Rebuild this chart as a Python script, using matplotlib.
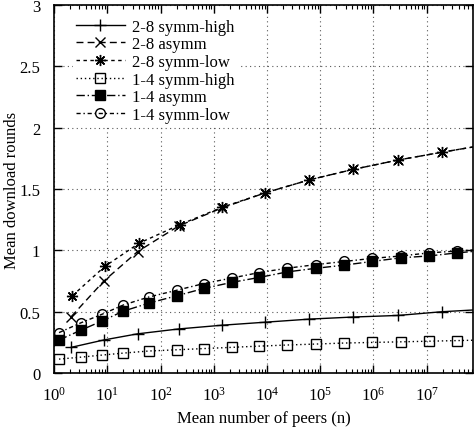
import numpy as np
import matplotlib.pyplot as plt
from matplotlib.ticker import FixedLocator, LogLocator, NullFormatter

plt.rcParams['font.family'] = ['Liberation Serif', 'DejaVu Serif']
plt.rcParams['mathtext.fontset'] = 'custom'
plt.rcParams['mathtext.rm'] = 'Liberation Serif'
plt.rcParams['mathtext.it'] = 'Liberation Serif:italic'
plt.rcParams['font.size'] = 12

# 2-8 series (mean peers, mean rounds)
n_28 = [2.1, 8.6, 37, 220, 1400, 9300, 62000, 4.1e5, 2.9e6, 1.9e7, 1.25e8]
symm_high_28 = [0.21, 0.27, 0.32, 0.36, 0.39, 0.415, 0.44, 0.457, 0.47, 0.50, 0.52]
asymm_28 = [0.46, 0.75, 0.99, 1.20, 1.345, 1.47, 1.575, 1.66, 1.737, 1.80, 1.86]
n_28_low = [2.2, 9.0, 40, 230, 1400, 9300, 62000, 4.1e5, 2.9e6, 1.9e7, 1.25e8]
symm_low_28 = [0.63, 0.87, 1.06, 1.21, 1.35, 1.47, 1.575, 1.66, 1.737, 1.80, 1.86]

# 1-4 series
n_14 = [1.24, 3.2, 8, 20, 60, 200, 650, 2200, 7200, 24000, 85000,
        2.8e5, 9.4e5, 3.3e6, 1.1e7, 3.7e7, 1.2e8]
symm_high_14 = [0.114, 0.13, 0.147, 0.163, 0.18, 0.19, 0.20, 0.21, 0.22,
                0.229, 0.237, 0.245, 0.25, 0.255, 0.26, 0.265, 0.27]
asymm_14 = [0.27, 0.35, 0.425, 0.505, 0.57, 0.63, 0.69, 0.74, 0.78,
            0.825, 0.855, 0.88, 0.91, 0.94, 0.955, 0.98, 1.0]
symm_low_14 = [0.33, 0.41, 0.48, 0.555, 0.62, 0.675, 0.73, 0.775, 0.82,
               0.855, 0.885, 0.91, 0.935, 0.955, 0.98, 0.995, 1.01]

x_ticks = [1, 1e1, 1e2, 1e3, 1e4, 1e5, 1e6, 1e7]

fig = plt.figure(figsize=(4.74, 4.35), dpi=100)
ax = fig.add_axes([0.114, 0.140, 0.884, 0.846])

lw = 1.0
ms = 7
ax.plot(n_28, symm_high_28, color='k', lw=lw, ls='-', marker='+', ms=8, mew=1,
        label='2-8 symm-high')
ax.plot(n_28, asymm_28, color='k', lw=lw, ls=(0, (5, 3)), marker='x', ms=7, mew=1,
        label='2-8 asymm')
ax.plot(n_28_low, symm_low_28, color='k', lw=lw, ls=(0, (2.5, 2.5)), marker=(8, 2, 0),
        ms=8, mew=1, label='2-8 symm-low')
ax.plot(n_14, symm_high_14, color='k', lw=lw, ls=(0, (1, 2)), marker='s', ms=ms,
        mfc='none', mew=1, label='1-4 symm-high')
ax.plot(n_14, asymm_14, color='k', lw=lw, ls=(0, (6, 2, 1, 2)), marker='s', ms=ms,
        mfc='k', mew=1, label='1-4 asymm')
ax.plot(n_14, symm_low_14, color='k', lw=lw, ls=(0, (3, 2, 1, 2)), marker='o', ms=ms,
        mfc='none', mew=1, label='1-4 symm-low')

ax.set_xscale('log')
ax.set_xlim(1, 10 ** 7.87)
ax.set_ylim(0, 3)
ax.set_yticks([0, 0.5, 1, 1.5, 2, 2.5, 3])
ax.set_yticklabels(['0', '0.5', '1', '1.5', '2', '2.5', '3'])
ax.xaxis.set_major_locator(FixedLocator(x_ticks))
ax.xaxis.set_minor_locator(LogLocator(base=10, subs=np.arange(2, 10), numticks=20))
ax.xaxis.set_minor_formatter(NullFormatter())

ax.tick_params(which='both', direction='in', top=True, right=True, labelsize=12)
ax.tick_params(which='major', length=6, width=1)
ax.tick_params(which='minor', length=3, width=0.8)
ax.tick_params(axis='x', which='major', pad=9)
ax.tick_params(axis='y', which='major', pad=10)
ax.grid(True, which='major', ls=(0, (1, 3)), color='0.35', lw=0.8)
for s in ax.spines.values():
    s.set_linewidth(1.2)

ax.set_xlabel('Mean number of peers (n)', fontsize=12, labelpad=5)
ax.set_ylabel('Mean download rounds', fontsize=12)
ax.yaxis.set_label_coords(-0.082, 0.5)

leg = ax.legend(loc='upper left', bbox_to_anchor=(0.025, 0.995), frameon=True,
                handlelength=2.9, labelspacing=0.1, borderpad=0.2,
                handletextpad=0.45, fontsize=12, fancybox=False)
leg.get_frame().set_edgecolor('none')
leg.get_frame().set_facecolor('white')
leg.get_frame().set_alpha(1)

fig.savefig('out.png', dpi=100)
